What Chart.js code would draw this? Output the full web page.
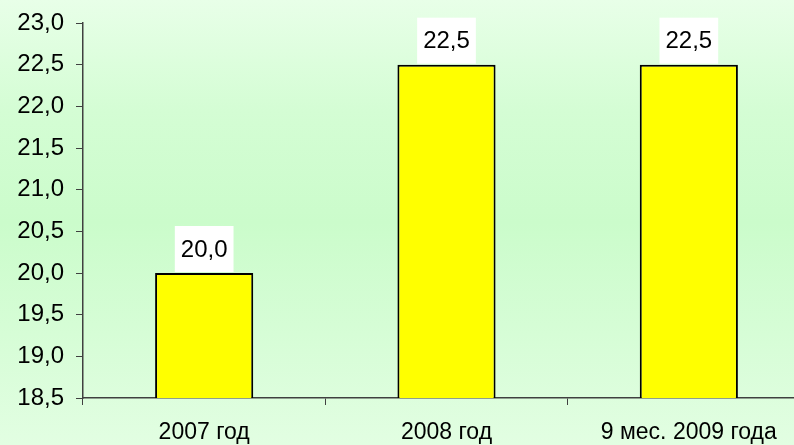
<!DOCTYPE html>
<html>
<head>
<meta charset="utf-8">
<script src="https://cdn.jsdelivr.net/npm/chart.js@4/dist/chart.umd.min.js"></script>
<style>
  html, body { margin: 0; padding: 0; overflow: hidden; }
  body {
    width: 794px; height: 445px;
    background: linear-gradient(to bottom, #e8ffe8 0%, #d4fdd4 25%, #cbfccb 50%, #d6fdd6 75%, #e2fee2 100%);
  }
  #wrap { position: relative; width: 810px; height: 445px; }
</style>
</head>
<body>
<div id="wrap"><canvas id="barChart" width="810" height="445"></canvas></div>
<script>
// Chart data
const categories = ['2007 год', '2008 год', '9 мес. 2009 года'];
const values = [20.0, 22.5, 22.5];
const yMin = 18.5;
const yMax = 23.0;
const yStep = 0.5;

const fmt = v => v.toFixed(1).replace('.', ',');
const FONT = '"Liberation Sans", Arial, sans-serif';

// White boxes with value labels above bars
const valueLabels = {
  id: 'valueLabels',
  afterDatasetsDraw(chart) {
    const ctx = chart.ctx;
    const meta = chart.getDatasetMeta(0);
    ctx.save();
    ctx.font = '24px ' + FONT;
    ctx.textAlign = 'center';
    ctx.textBaseline = 'middle';
    meta.data.forEach((bar, i) => {
      const text = fmt(values[i]);
      const w = ctx.measureText(text).width + 12;
      const h = 46;
      const top = bar.y - 1 - h;
      ctx.fillStyle = '#ffffff';
      ctx.fillRect(bar.x - w / 2, top, w, h);
      ctx.fillStyle = '#000000';
      ctx.fillText(text, bar.x, top + h / 2 + 1);
    });
    ctx.restore();
  }
};

const ctx = document.getElementById('barChart').getContext('2d');
new Chart(ctx, {
  type: 'bar',
  data: {
    labels: categories,
    datasets: [{
      data: values,
      backgroundColor: '#ffff00',
      borderColor: '#000000',
      borderWidth: 2,
      borderSkipped: 'bottom',
      categoryPercentage: 1,
      barPercentage: 0.405
    }]
  },
  options: {
    responsive: false,
    maintainAspectRatio: false,
    animation: false,
    devicePixelRatio: 1,
    layout: { padding: { top: 23, right: 0, left: 0, bottom: 0 } },
    plugins: {
      legend: { display: false },
      tooltip: { enabled: false }
    },
    scales: {
      x: {
        offset: true,
        grid: {
          display: true,
          drawOnChartArea: false,
          drawTicks: true,
          tickLength: 7,
          offset: true,
          color: '#404040'
        },
        border: { display: true, color: '#404040', width: 1.5 },
        ticks: {
          color: '#000000',
          font: { family: FONT, size: 23 },
          padding: 14,
          maxRotation: 0,
          autoSkip: false
        },
        afterFit(scale) { scale.height = 47; }
      },
      y: {
        min: yMin,
        max: yMax,
        grid: {
          display: true,
          drawOnChartArea: false,
          drawTicks: true,
          tickLength: 7,
          color: '#404040'
        },
        border: { display: true, color: '#404040', width: 1.5 },
        ticks: {
          stepSize: yStep,
          autoSkip: false,
          color: '#000000',
          font: { family: FONT, size: 24, lineHeight: 0.5 },
          padding: 12,
          callback: v => fmt(v)
        },
        afterFit(scale) { scale.width = 83; scale.paddingTop = 0; scale.paddingBottom = 0; }
      }
    }
  },
  plugins: [valueLabels]
});
</script>
</body>
</html>
